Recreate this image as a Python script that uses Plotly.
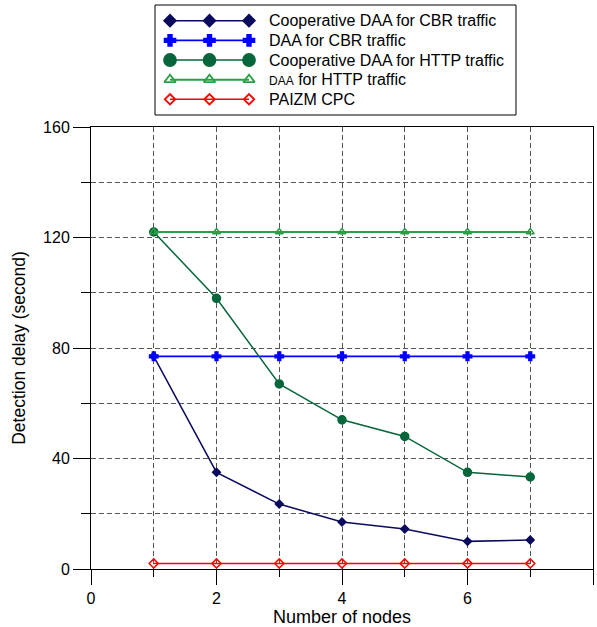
import plotly.graph_objects as go

# ---- data ----
nodes = [1, 2, 3, 4, 5, 6, 7]
coop_daa_cbr = [77, 35, 23.5, 17, 14.5, 10, 10.5]
daa_cbr = [77, 77, 77, 77, 77, 77, 77]
coop_daa_http = [122, 98, 67, 54, 48, 35, 33.3]
daa_http = [122, 122, 122, 122, 122, 122, 122]
paizm_cpc = [2, 2, 2, 2, 2, 2, 2]

series_names = [
    "Cooperative DAA for CBR traffic",
    "DAA for CBR traffic",
    "Cooperative DAA for HTTP traffic",
    "<span style='font-size:12px'>DAA</span> for HTTP traffic",
    "PAIZM CPC",
]
series_values = [coop_daa_cbr, daa_cbr, coop_daa_http, daa_http, paizm_cpc]

x_ticks = [0, 2, 4, 6, 8]
y_ticks = [0, 40, 80, 120, 160]

# legend sample positions (3 markers per legend row)
legend_sample_x = [1, 2, 3]
legend_rows = [1, 2, 3, 4, 5]

# ---- styles ----
styles = [
    dict(color="#0a0a5e", symbol="diamond", size=6, lsize=9, lw=1.5),
    dict(color="#0000ff", symbol="cross", size=7, lsize=9, lw=1.8),
    dict(color="#07663a", symbol="circle", size=8, lsize=12, lw=1.5),
    dict(color="#2aa046", symbol="triangle-up-open", size=7, lsize=10, lw=2),
    dict(color="#ff0000", symbol="diamond-open", size=7, lsize=8, lw=1.5),
]

FONT = "Liberation Sans, Arial, Helvetica, sans-serif"
fig = go.Figure()

for name, vals, st in zip(series_names, series_values, styles):
    fig.add_trace(go.Scatter(
        x=nodes, y=vals, mode="lines+markers", name=name, showlegend=False,
        line=dict(color=st["color"], width=st["lw"]),
        marker=dict(symbol=st["symbol"], size=st["size"], color=st["color"],
                    line=dict(color=st["color"], width=1.5)),
        xaxis="x", yaxis="y",
    ))

# custom legend (three markers per sample, like the original)
for row, name, st in zip(legend_rows, series_names, styles):
    fig.add_trace(go.Scatter(
        x=legend_sample_x, y=[row] * len(legend_sample_x),
        mode="lines+markers", showlegend=False, hoverinfo="skip",
        line=dict(color=st["color"], width=st["lw"]),
        marker=dict(symbol=st["symbol"], size=st["lsize"], color=st["color"],
                    line=dict(color=st["color"], width=1.8)),
        xaxis="x2", yaxis="y2",
    ))
    fig.add_annotation(x=3.45, y=row, xref="x2", yref="y2", text=name,
                       showarrow=False, xanchor="left", yanchor="middle",
                       font=dict(family=FONT, size=16, color="black"))

fig.add_shape(type="rect", xref="x2 domain", yref="y2 domain",
              x0=0, x1=1, y0=0, y1=1, line=dict(color="black", width=1))

grid = dict(gridcolor="#555555", gridwidth=1, griddash="5px,3px")

fig.update_layout(
    width=597, height=627,
    margin=dict(l=91, r=4, t=2, b=58),
    paper_bgcolor="white", plot_bgcolor="white",
    font=dict(family=FONT, size=16, color="black"),
    xaxis=dict(
        domain=[0, 1], range=[0, 8], tickvals=x_ticks, ticks="outside",
        ticklen=15, tickcolor="black", tickwidth=1, automargin=False,
        showline=True, linecolor="black", linewidth=1, mirror=True,
        showgrid=True, zeroline=False,
        minor=dict(dtick=1, ticks="outside", ticklen=7, tickcolor="black",
                   showgrid=True, **grid),
        title=dict(text="Number of nodes", font=dict(size=18), standoff=1),
        tickfont=dict(size=16),
        **grid,
    ),
    yaxis=dict(
        domain=[0, 0.7795], range=[0, 160], tickvals=y_ticks, ticks="outside",
        ticklen=17, tickcolor="black", tickwidth=1, automargin=False,
        showline=True, linecolor="black", linewidth=1, mirror=True,
        showgrid=True, zeroline=False,
        minor=dict(dtick=20, ticks="outside", ticklen=9, tickcolor="black",
                   showgrid=True, **grid),
        title=dict(text="Detection delay (second)", font=dict(size=17.5), standoff=12),
        tickfont=dict(size=16),
        **grid,
    ),
    xaxis2=dict(domain=[0.1275, 0.8466], range=[0.62, 9.76], visible=False,
                anchor="y2", fixedrange=True, automargin=False),
    yaxis2=dict(domain=[0.8007, 0.9947], range=[5.8, 0.2], visible=False,
                anchor="x2", fixedrange=True, automargin=False),
)

fig.write_html("out.html", config={"displayModeBar": False},
               post_script="document.body.style.margin='0';document.body.style.padding='0';")
